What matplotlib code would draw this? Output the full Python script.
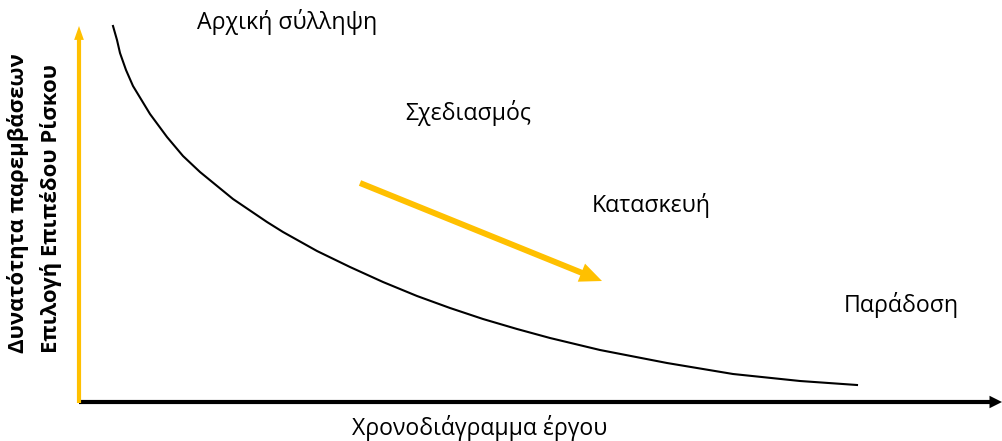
import matplotlib
matplotlib.use("Agg")
import matplotlib.pyplot as plt
from matplotlib.patches import FancyArrowPatch

plt.rcParams['font.family'] = ['Open Sans', 'DejaVu Sans']

# Data (conceptual units: time since start, intervention capability)
time_vals = [34, 38, 41, 47, 54, 71, 88, 104, 121, 154, 188, 204, 238, 271, 304,
             338, 371, 404, 438, 471, 521, 588, 654, 721, 778]
capability = [376, 362, 349, 332, 316, 288, 265, 246, 230, 203, 180, 170, 151, 135, 120,
              106, 94, 83, 73, 64, 52, 39, 28, 21, 17]

stage_labels = ["Αρχική σύλληψη", "Σχεδιασμός", "Κατασκευή", "Παράδοση"]
stage_x = [208, 389, 572, 822]
stage_y = [380, 289, 197, 97]

trend_start = (281, 219)
trend_end = (523, 121)

x_axis_end = 923
y_axis_end = 376

xlabel = "Χρονοδιάγραμμα έργου"
ylabel_lines = ["Δυνατότητα παρεμβάσεων", "Επιλογή Επιπέδου Ρίσκου"]

YELLOW = "#FFC000"

fig = plt.figure(figsize=(10.02, 4.41), dpi=100)
ax = fig.add_axes([0, 0, 1, 1])
ax.set_xlim(-79, 923)
ax.set_ylim(-39, 402)
ax.axis('off')

# x axis arrow (black)
ax.add_patch(FancyArrowPatch((0, 0), (x_axis_end, 0), mutation_scale=1,
                             arrowstyle='simple,head_length=9,head_width=9,tail_width=3',
                             color='black', lw=0, shrinkA=0, shrinkB=0, zorder=2))
# y axis arrow (yellow)
ax.add_patch(FancyArrowPatch((0, -1), (0, y_axis_end), mutation_scale=1,
                             arrowstyle='simple,head_length=10,head_width=7,tail_width=3',
                             color=YELLOW, lw=0, shrinkA=0, shrinkB=0, zorder=3))

# decay curve
ax.plot(time_vals, capability, color='black', lw=1.5, zorder=4,
        solid_joinstyle='round')

# trend arrow
ax.add_patch(FancyArrowPatch(trend_start, trend_end, mutation_scale=1,
                             arrowstyle='simple,head_length=16,head_width=14,tail_width=4.3',
                             color=YELLOW, lw=0, shrinkA=0, shrinkB=0, zorder=3))

for lab, sx, sy in zip(stage_labels, stage_x, stage_y):
    ax.text(sx, sy, lab, ha='center', va='center', fontsize=16.7, color='black')

ax.text(401, -26, xlabel, ha='center', va='center', fontsize=16.6, color='black')

ax.text(-61, 49, ylabel_lines[0], rotation=90, ha='center', va='bottom',
        fontsize=15.9, fontweight='bold', color='black')
ax.text(-28, 49, ylabel_lines[1], rotation=90, ha='center', va='bottom',
        fontsize=15.9, fontweight='bold', color='black')

fig.savefig("out.png", dpi=100)
